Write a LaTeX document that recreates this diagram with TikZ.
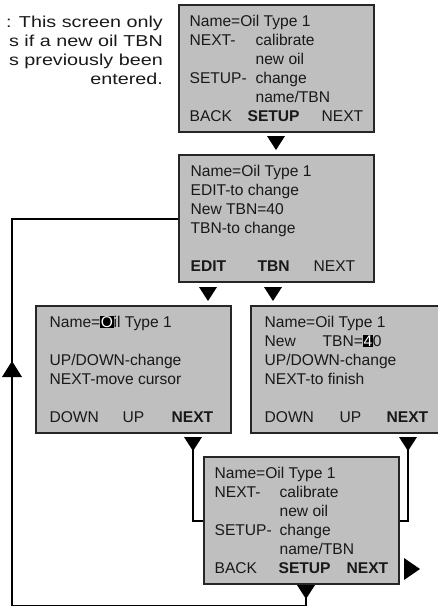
\documentclass[tikz,border=0pt]{standalone}
\usepackage{fontspec}
\setmainfont{Liberation Sans}
\newfontfamily\notefont[FakeStretch=1.25]{Liberation Sans}

% inverted character under the edit cursor
\newcommand\cursor[1]{{\setlength\fboxsep{0.6pt}\colorbox{black}{\textcolor{white}{#1}}}}

\tikzset{
  screen/.style={draw=black!85, line width=1.2pt, fill=black!25,
    minimum width=195pt, minimum height=127pt, inner sep=0pt},
  txt/.style={anchor=base west, inner sep=0pt, text=black!90,
    font=\fontsize{15.6}{19}\selectfont},
  note/.style={txt, anchor=base east, font=\fontsize{15.8}{19}\notefont},
  link/.style={line width=2pt},
}

\begin{document}
\begin{tikzpicture}[x=1pt, y=-1pt]
    \useasboundingbox (0,0) rectangle (438,606);
    \clip (0,0) rectangle (438,606);

    % note on the left
    \node[note] (n1) at (163,27) {: This screen only};
    \node[note] (n2) at (163,46) {s if a new oil TBN};
    \node[note] (n3) at (163,65) {s previously been};
    \node[note] (n4) at (163,84) {entered.};

    % screens
    \node[screen] (scrA) at (276.5,68.5) {};
    \node[screen] (scrB) at (276.5,218.5) {};
    \node[screen] (scrC) at (133.5,369.5) {};
    \node[screen] (scrD) at (348.5,369.5) {};
    \node[screen] (scrE) at (301.5,520.5) {};

    % screen A
    \node[txt] (a1) at ([shift={(11,22)}]scrA.north west) {Name=Oil Type 1};
    \node[txt] (a2) at ([shift={(11,41)}]scrA.north west) {NEXT-};
    \node[txt] (a3) at ([shift={(77,41)}]scrA.north west) {calibrate};
    \node[txt] (a4) at ([shift={(77,60)}]scrA.north west) {new oil};
    \node[txt] (a5) at ([shift={(11,79)}]scrA.north west) {SETUP-};
    \node[txt] (a6) at ([shift={(77,79)}]scrA.north west) {change};
    \node[txt] (a7) at ([shift={(77,98)}]scrA.north west) {name/TBN};
    \node[txt] (a8) at ([shift={(11,117)}]scrA.north west) {BACK};
    \node[txt] (a9) at ([shift={(69,117)}]scrA.north west) {\bfseries SETUP};
    \node[txt] (a10) at ([shift={(143,117)}]scrA.north west) {NEXT};

    % screen B
    \node[txt] (b1) at ([shift={(12,22)}]scrB.north west) {Name=Oil Type 1};
    \node[txt] (b2) at ([shift={(12,41)}]scrB.north west) {EDIT-to change};
    \node[txt] (b3) at ([shift={(12,60)}]scrB.north west) {New TBN=40};
    \node[txt] (b4) at ([shift={(12,79)}]scrB.north west) {TBN-to change};
    \node[txt] (b5) at ([shift={(12,117)}]scrB.north west) {\bfseries EDIT};
    \node[txt] (b6) at ([shift={(79,117)}]scrB.north west) {\bfseries TBN};
    \node[txt] (b7) at ([shift={(135,117)}]scrB.north west) {NEXT};

    % screen C
    \node[txt] (c1) at ([shift={(14,22)}]scrC.north west) {Name=\cursor{O}il Type 1};
    \node[txt] (c2) at ([shift={(14,60)}]scrC.north west) {UP/DOWN-change};
    \node[txt] (c3) at ([shift={(14,79)}]scrC.north west) {NEXT-move cursor};
    \node[txt] (c4) at ([shift={(14,117)}]scrC.north west) {DOWN};
    \node[txt] (c5) at ([shift={(87,117)}]scrC.north west) {UP};
    \node[txt] (c6) at ([shift={(136,117)}]scrC.north west) {\bfseries NEXT};

    % screen D
    \node[txt] (d1) at ([shift={(14,22)}]scrD.north west) {Name=Oil Type 1};
    \node[txt] (d2) at ([shift={(14,41)}]scrD.north west) {New};
    \node[txt] (d3) at ([shift={(72,41)}]scrD.north west) {TBN=\cursor{4}0};
    \node[txt] (d4) at ([shift={(14,60)}]scrD.north west) {UP/DOWN-change};
    \node[txt] (d5) at ([shift={(14,79)}]scrD.north west) {NEXT-to finish};
    \node[txt] (d6) at ([shift={(14,117)}]scrD.north west) {DOWN};
    \node[txt] (d7) at ([shift={(89,117)}]scrD.north west) {UP};
    \node[txt] (d8) at ([shift={(136,117)}]scrD.north west) {\bfseries NEXT};

    % screen E
    \node[txt] (e1) at ([shift={(11,22)}]scrE.north west) {Name=Oil Type 1};
    \node[txt] (e2) at ([shift={(11,41)}]scrE.north west) {NEXT-};
    \node[txt] (e3) at ([shift={(76,41)}]scrE.north west) {calibrate};
    \node[txt] (e4) at ([shift={(76,60)}]scrE.north west) {new oil};
    \node[txt] (e5) at ([shift={(11,79)}]scrE.north west) {SETUP-};
    \node[txt] (e6) at ([shift={(76,79)}]scrE.north west) {change};
    \node[txt] (e7) at ([shift={(76,98)}]scrE.north west) {name/TBN};
    \node[txt] (e8) at ([shift={(11,117)}]scrE.north west) {BACK};
    \node[txt] (e9) at ([shift={(75,117)}]scrE.north west) {\bfseries SETUP};
    \node[txt] (e10) at ([shift={(143,117)}]scrE.north west) {\bfseries NEXT};

    % down markers
    \foreach \x/\y in {276/136, 208/287, 273/287, 193/437, 408/437, 306/585}
        \fill (\x-9,\y) -- (\x+9,\y) -- (\x,\y+14) -- cycle;
    % right marker and up marker
    \fill (404,558) -- (404,580) -- (420,569) -- cycle;
    \fill (2,377) -- (22,377) -- (12,361) -- cycle;

    \coordinate (tC) at (193,450);
    \coordinate (tD) at (408,450);
    \coordinate (tE) at (306,598);
    \coordinate (loopL) at (12,606);

    \draw[link] (tC) |- (scrE.west);
    \draw[link] (tD) |- (scrE.east);
    \draw[link] (tE) |- (loopL) |- (scrB.west);
\end{tikzpicture}
\end{document}
